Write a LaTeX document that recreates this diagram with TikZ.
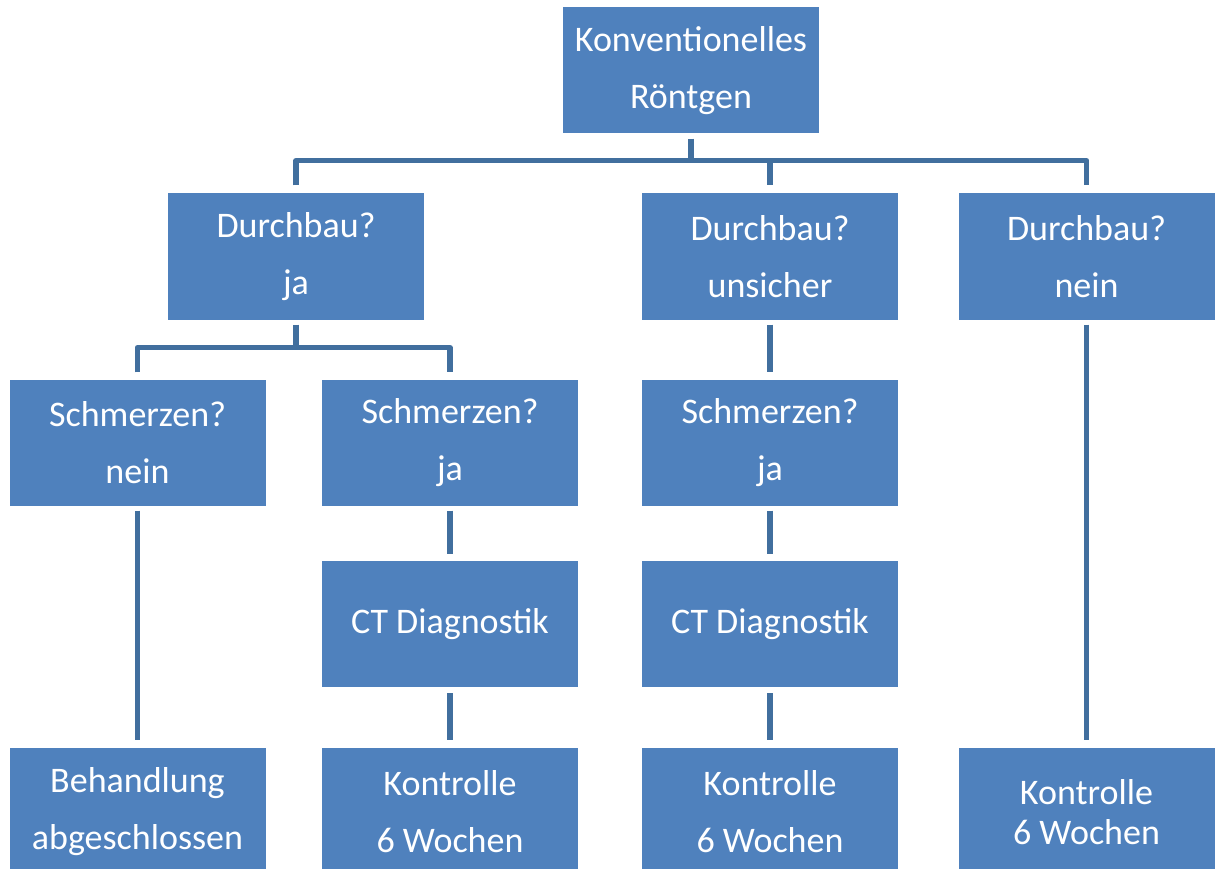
\documentclass[tikz,border=0pt]{standalone}
\usepackage{fontspec}
\setmainfont{Carlito}
\usetikzlibrary{calc}
\definecolor{boxblue}{RGB}{79,129,189}
\definecolor{lineblue}{RGB}{65,111,158}
\tikzset{
  box/.style={fill=boxblue, draw=none, text=white, minimum width=256pt, minimum height=126pt,
    inner sep=0pt, align=center, font=\fontsize{36}{57}\selectfont},
  conn/.style={draw=lineblue, line width=5.5pt, line join=round}
}
\begin{document}
\begin{tikzpicture}[x=1pt,y=-1pt]
\useasboundingbox (0,0) rectangle (1219,869);
\clip (0,0) rectangle (1219,869);
\fill[white] (0,0) rectangle (1219,869);
% nodes
\node[box] (top) at (691,70.5) {Konventionelles\\Röntgen};
\node[box] (d1) at (296,256.5) {Durchbau?\\ja};
\node[box] (d2) at (770,256.5) {Durchbau?\\unsicher};
\node[box] (d3) at (1086.5,256.5) {Durchbau?\\nein};
\node[box] (s1) at (137.5,442.5) {Schmerzen?\\nein};
\node[box] (s2) at (450,442.5) {Schmerzen?\\ja};
\node[box] (s3) at (770,442.5) {Schmerzen?\\ja};
\node[box] (c2) at (450,624) {CT Diagnostik};
\node[box] (c3) at (770,624) {CT Diagnostik};
\node[box, minimum height=128pt] (b1) at (137.5,812) {Behandlung\\abgeschlossen};
\node[box, minimum height=128pt] (b2) at (450,812) {Kontrolle\\6 Wochen};
\node[box, minimum height=128pt] (b3) at (770,812) {Kontrolle\\6 Wochen};
\node[box, minimum height=128pt, font=\fontsize{36}{40}\selectfont] (b4) at (1086.5,812) {Kontrolle\\6 Wochen};
% connectors
\coordinate (tb) at ($(top.south)+(0,27)$);
\draw[conn] ($(top.south)+(0,5)$) -- (tb);
\draw[conn] ($(d1.north)+(0,-8)$) -- (d1.north |- tb) -- (d3.north |- tb) -- ($(d3.north)+(0,-8)$);
\draw[conn] (d2.north |- tb) -- ($(d2.north)+(0,-8)$);
\coordinate (lb) at ($(d1.south)+(0,28)$);
\draw[conn] ($(d1.south)+(0,5)$) -- (lb);
\draw[conn] ($(s1.north)+(0,-7)$) -- (s1.north |- lb) -- (s2.north |- lb) -- ($(s2.north)+(0,-7)$);
\draw[conn] ($(d2.south)+(0,5)$) -- ($(s3.north)+(0,-7)$);
\draw[conn] ($(d3.south)+(0,5)$) -- ($(b4.north)+(0,-8)$);
\draw[conn] ($(s1.south)+(0,5)$) -- ($(b1.north)+(0,-8)$);
\draw[conn] ($(s2.south)+(0,5)$) -- ($(c2.north)+(0,-7)$);
\draw[conn] ($(c2.south)+(0,6)$) -- ($(b2.north)+(0,-8)$);
\draw[conn] ($(s3.south)+(0,5)$) -- ($(c3.north)+(0,-7)$);
\draw[conn] ($(c3.south)+(0,6)$) -- ($(b3.north)+(0,-8)$);
\end{tikzpicture}
\end{document}
